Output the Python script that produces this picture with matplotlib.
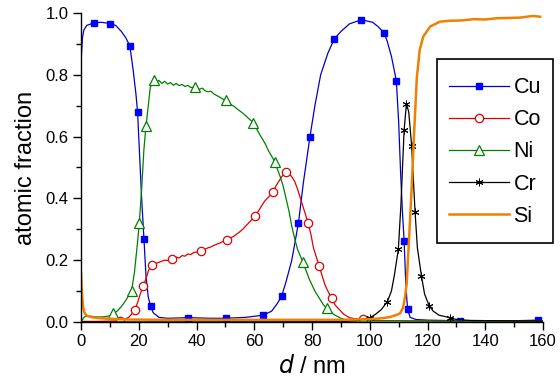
import numpy as np
import matplotlib
matplotlib.use('Agg')
import matplotlib.pyplot as plt
from matplotlib.ticker import MultipleLocator
from matplotlib.patches import Rectangle

plt.rcParams['font.family'] = ['Liberation Sans', 'DejaVu Sans']

# depth profile, d in nm
cu_d = [0, 0.5, 1, 2, 4.5, 7, 10, 12, 14, 15.5, 16.9, 18, 19, 19.6, 20.5, 21, 21.8, 22.5, 23.3,
        24.1, 25, 27, 30, 37.2, 45, 50.1, 57, 63.1, 66, 68, 69.5, 71, 73, 75.3, 77, 79.3, 81, 83,
        85.5, 87.7, 90, 93, 97.1, 101, 103, 104.9, 106, 107.5, 109.2, 110, 110.7, 111.3, 111.9,
        112.5, 113.1, 114, 116, 120, 131.3, 140, 150, 158.2]
cu = [0.84, 0.92, 0.945, 0.96, 0.968, 0.97, 0.966, 0.96, 0.94, 0.92, 0.894, 0.82, 0.74, 0.679,
      0.5, 0.4, 0.269, 0.15, 0.08, 0.052, 0.03, 0.015, 0.012, 0.014, 0.012, 0.012, 0.015, 0.022,
      0.035, 0.06, 0.084, 0.13, 0.2, 0.32, 0.45, 0.6, 0.7, 0.8, 0.87, 0.916, 0.94, 0.965, 0.978,
      0.97, 0.955, 0.936, 0.91, 0.86, 0.781, 0.65, 0.48, 0.36, 0.263, 0.12, 0.041, 0.015, 0.008,
      0.006, 0.004, 0.004, 0.004, 0.006]
cu_marks = [4.5, 10, 16.9, 19.6, 21.8, 24.1, 37.2, 50.1, 63.1, 69.5, 75.3, 79.3, 87.7, 97.1,
            104.9, 109.2, 111.9, 113.1, 131.3, 158.2]

co_d = [0, 5, 10, 13.5, 15, 16.5, 17.5, 18.7, 19.5, 20.5, 21.6, 22.5, 23.5, 24.5, 26, 27, 28, 29,
        30, 31.4, 33, 34, 35, 36, 37, 38, 39, 40, 41.5, 43, 44, 45, 46, 47, 48, 49, 50.5, 52, 53,
        54, 55, 56, 57, 58, 59, 60.3, 61.5, 62.5, 63.5, 64.5, 65.5, 66.4, 67.5, 68.5, 69.5, 71,
        72, 73, 74, 75, 76, 77, 78.7, 79.7, 80.5, 81.5, 82.5, 83.5, 84.5, 85.5, 86.8, 88, 89.5,
        91, 93, 95, 97.8, 100, 105, 120, 160]
co = [0.002, 0.002, 0.003, 0.004, 0.008, 0.015, 0.025, 0.039, 0.06, 0.09, 0.117, 0.14, 0.17,
      0.183, 0.19, 0.193, 0.197, 0.2, 0.199, 0.204, 0.21, 0.207, 0.215, 0.213, 0.22, 0.218, 0.225,
      0.226, 0.23, 0.236, 0.24, 0.243, 0.248, 0.252, 0.255, 0.26, 0.265, 0.273, 0.278, 0.285,
      0.292, 0.3, 0.31, 0.32, 0.33, 0.343, 0.36, 0.375, 0.39, 0.4, 0.41, 0.422, 0.44, 0.455, 0.47,
      0.486, 0.48, 0.47, 0.455, 0.43, 0.4, 0.37, 0.319, 0.28, 0.24, 0.21, 0.181, 0.15, 0.12, 0.1,
      0.077, 0.055, 0.04, 0.025, 0.014, 0.01, 0.009, 0.006, 0.004, 0.003, 0.003]
co_marks = [13.5, 18.7, 21.6, 24.5, 31.4, 41.5, 50.5, 60.3, 66.4, 71, 78.7, 82.5, 86.8, 97.8]

ni_d = [0, 1, 2, 4, 6, 8, 10, 11.2, 12.5, 14, 15.5, 17.5, 18.5, 19.5, 20.2, 21, 21.8, 22.5, 23.3,
        24, 25.4, 26, 27, 28, 29, 30, 31, 32, 33, 34, 35, 36, 37, 38, 39.6, 41, 42, 43, 44, 45, 46,
        47, 48, 49, 50.2, 51, 52, 53, 54, 55, 56, 57, 58, 59.7, 61, 62, 63, 64, 65, 66, 67.2, 68,
        69, 70, 71, 72, 73, 74, 75, 76.8, 78, 79, 80, 81, 82, 83, 84, 85.1, 86, 88, 90, 92, 95,
        100, 110, 120, 140, 160]
ni = [0.0, 0.015, 0.02, 0.018, 0.016, 0.017, 0.02, 0.028, 0.035, 0.05, 0.07, 0.1, 0.16, 0.25,
      0.321, 0.43, 0.56, 0.634, 0.7, 0.76, 0.783, 0.775, 0.782, 0.772, 0.779, 0.77, 0.775, 0.766,
      0.772, 0.765, 0.769, 0.762, 0.766, 0.759, 0.76, 0.753, 0.757, 0.748, 0.745, 0.747, 0.738,
      0.733, 0.728, 0.722, 0.718, 0.712, 0.703, 0.698, 0.69, 0.683, 0.676, 0.668, 0.659, 0.645,
      0.622, 0.605, 0.59, 0.573, 0.553, 0.537, 0.517, 0.495, 0.47, 0.44, 0.4, 0.36, 0.31, 0.27,
      0.235, 0.195, 0.165, 0.14, 0.12, 0.1, 0.085, 0.07, 0.055, 0.044, 0.035, 0.022, 0.012, 0.006,
      0.003, 0.003, 0.004, 0.003, 0.003, 0.003]
ni_marks = [11.2, 17.5, 20.2, 22.5, 25.4, 39.6, 50.2, 59.7, 67.2, 76.8, 85.1]

cr_d = [0, 90, 95, 98, 100.1, 102, 104, 106.1, 107.5, 108.5, 109.9, 110.8, 111.9, 112.7, 113.5,
        114.5, 115.7, 116.5, 117.9, 119, 120.6, 122, 124, 127.8, 130, 135, 145, 160]
cr = [0.0, 0.001, 0.004, 0.01, 0.014, 0.025, 0.04, 0.066, 0.1, 0.15, 0.235, 0.38, 0.621, 0.706,
      0.68, 0.571, 0.355, 0.24, 0.149, 0.09, 0.052, 0.035, 0.022, 0.014, 0.008, 0.005, 0.004,
      0.003]
cr_marks = [100.1, 106.1, 109.9, 111.9, 112.7, 114.5, 115.7, 117.9, 120.6, 127.8]

si_d = [0, 0.3, 0.7, 1.2, 2, 4, 7, 10, 15, 30, 60, 90, 100, 104, 107, 109, 110.5, 111.5, 112.2,
        112.8, 113.5, 114.5, 115.3, 116.3, 117.3, 118.5, 120.9, 124.3, 128, 132, 136, 140, 144,
        148, 152, 156, 157, 159]
si = [0.16, 0.1, 0.05, 0.03, 0.02, 0.015, 0.012, 0.01, 0.008, 0.007, 0.007, 0.007, 0.009, 0.012,
      0.016, 0.022, 0.028, 0.045, 0.08, 0.125, 0.25, 0.43, 0.6, 0.79, 0.88, 0.923, 0.956, 0.972,
      0.975, 0.976, 0.98, 0.979, 0.983, 0.984, 0.985, 0.99, 0.99, 0.988]


def mark_idx(d, marks):
    return [i for i, v in enumerate(d) if v in marks]


fig = plt.figure(figsize=(5.6, 3.8), dpi=100)
ax = fig.add_axes([81 / 560, 1 - 322 / 380, 462 / 560, 309 / 380])

ax.plot(cu_d, cu, color='#0000c8', lw=0.9, marker='s', ms=4, mfc='#0000ff', mec='#0000ff',
        markevery=mark_idx(cu_d, cu_marks), label='Cu')
ax.plot(co_d, co, color='#e00000', lw=0.9, marker='o', ms=6, mfc='white', mec='#e00000',
        mew=0.9, markevery=mark_idx(co_d, co_marks), label='Co')
ax.plot(ni_d, ni, color='#008000', lw=0.9, marker='^', ms=7, mfc='white', mec='#008000',
        mew=0.9, markevery=mark_idx(ni_d, ni_marks), label='Ni')
ax.plot(cr_d, cr, color='black', lw=0.9, marker=(6, 2, 0), ms=5.5, mec='black', mew=0.7,
        markevery=mark_idx(cr_d, cr_marks), label='Cr')
ax.plot(si_d, si, color='#f08000', lw=1.8, label='Si')

ax.set_xlim(0, 160)
ax.set_ylim(0, 1.0)
ax.xaxis.set_major_locator(MultipleLocator(20))
ax.xaxis.set_minor_locator(MultipleLocator(10))
ax.yaxis.set_major_locator(MultipleLocator(0.2))
ax.yaxis.set_minor_locator(MultipleLocator(0.1))
ax.yaxis.set_major_formatter(plt.FormatStrFormatter('%.1f'))

for s in ['top', 'right']:
    ax.spines[s].set_visible(False)
for s in ['left', 'bottom']:
    ax.spines[s].set_linewidth(1.0)

ax.tick_params(which='major', direction='out', length=6, width=1.0, labelsize=12, pad=3)
ax.tick_params(which='minor', direction='out', length=3.5, width=1.0)

ax.set_xlabel(r'$\mathit{d}$ / nm', fontsize=17, labelpad=4)
ax.set_ylabel('atomic fraction', fontsize=17, labelpad=6)

# legend box drawn separately so its padding can differ from the entries
fig.patches.append(Rectangle((437 / 560, 1 - 243 / 380), 116 / 560, 184 / 380,
                             transform=fig.transFigure, fill=False, edgecolor='black', lw=1.2))
ax.legend(loc='center', bbox_to_anchor=(495 / 560, 1 - 152 / 380), bbox_transform=fig.transFigure,
          fontsize=15.5, frameon=False, handlelength=2.8, handletextpad=0.2,
          labelspacing=0.52, borderpad=0, borderaxespad=0)

plt.savefig('out.png', dpi=100)
